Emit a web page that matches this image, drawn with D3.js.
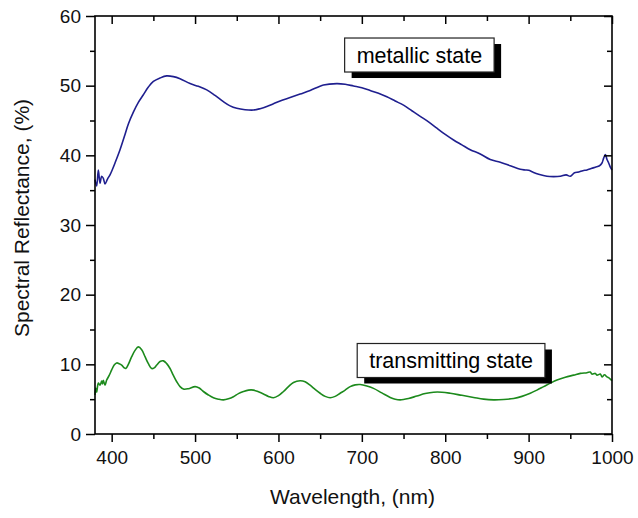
<!DOCTYPE html>
<html><head><meta charset="utf-8">
<script src="https://cdn.jsdelivr.net/npm/d3@7"></script>
<style>html,body{margin:0;padding:0;background:#fff}svg{display:block}</style>
</head><body>
<svg id="c" width="638" height="518"></svg>
<script>
const metallicWl = [380,382,384,386,388,390,392,395,398,401,404,410,416,420,426,432,438,444,450,458,466,474,482,494,504,514,524,534,542,550,560,570,578,586,594,602,614,626,638,654,670,680,690,700,710,720,730,740,750,760,770,780,790,800,810,820,830,842,854,866,878,890,896,900,905,912,922,930,938,945,950,955,960,965,970,975,980,985,988,990,992,994,996,998,1000];
const metallicR = [36.5,35.6,37.9,36.0,37.0,36.7,35.9,36.6,37.2,38.0,38.9,40.8,43.0,44.5,46.2,47.6,48.7,49.8,50.6,51.1,51.4,51.3,51.0,50.3,49.9,49.4,48.6,47.7,47.1,46.75,46.55,46.5,46.7,47.0,47.4,47.8,48.3,48.8,49.3,50.1,50.3,50.2,49.95,49.7,49.3,48.9,48.4,47.8,47.2,46.4,45.6,44.8,43.9,43.0,42.2,41.5,40.8,40.2,39.4,39.0,38.5,38.0,37.9,37.85,37.6,37.3,37.0,36.95,37.0,37.2,37.0,37.5,37.6,37.8,37.9,38.1,38.3,38.5,38.9,39.6,40.1,39.4,38.9,38.3,37.9];

const transWl = [380,381,382,384,386,388,389,390,392,394,397,400,403,406,409,412,415,417,420,424,428,432,436,440,444,448,451,454,458,462,466,470,474,478,482,486,492,500,505,510,516,522,528,534,540,546,552,558,564,570,576,582,588,594,600,606,612,618,626,632,638,644,650,656,662,668,674,680,686,692,698,706,714,724,734,740,746,756,766,776,786,796,806,820,834,846,858,870,882,892,902,910,918,926,934,944,954,962,970,974,976,980,982,986,988,991,994,997,1000];
const transR = [5.6,6.6,6.0,7.3,7.0,7.6,7.2,7.7,7.0,7.75,8.4,9.2,9.9,10.2,10.1,9.9,9.5,9.4,10.0,11.1,12.0,12.5,12.1,11.1,10.1,9.4,9.5,9.9,10.4,10.5,10.1,9.4,8.4,7.5,6.8,6.45,6.5,6.8,6.6,6.1,5.6,5.2,5.0,4.9,5.05,5.35,5.8,6.1,6.3,6.3,6.05,5.75,5.4,5.2,5.5,6.1,6.8,7.4,7.65,7.5,7.0,6.4,5.85,5.4,5.2,5.4,5.85,6.3,6.8,7.05,7.1,6.9,6.55,5.9,5.25,5.0,4.9,5.1,5.45,5.8,6.0,6.0,5.85,5.55,5.25,5.0,4.9,4.95,5.1,5.4,5.85,6.3,6.8,7.3,7.75,8.15,8.45,8.7,8.8,8.9,8.6,8.7,8.45,8.6,8.2,8.5,8.2,8.0,7.65];

const xMajor = [400,500,600,700,800,900,1000];
const xMinor = [450,550,650,750,850,950];
const yMajor = [0,10,20,30,40,50,60];
const yMinor = [5,15,25,35,45,55];

const labelTexts = ["metallic state","transmitting state"];
const labelWl = [769,807];
const labelR = [54.4,10.55];

const xTitle = "Wavelength, (nm)";
const yTitle = "Spectral Reflectance, (%)";

const svg = d3.select("#c");
const L = 95, R = 612, T = 16, B = 434;
const x = d3.scaleLinear().domain([380,1000]).range([L,R]);
const y = d3.scaleLinear().domain([0,60]).range([B,T]);
const font = "'Liberation Sans', Arial, Helvetica, sans-serif";

const line = d3.line().x(d=>x(d[0])).y(d=>y(d[1])).curve(d3.curveCatmullRom.alpha(0.5));
const mData = metallicWl.map((w,i)=>[w,metallicR[i]]);
const tData = transWl.map((w,i)=>[w,transR[i]]);

svg.append("path").datum(mData).attr("d",line).attr("fill","none").attr("stroke","#1f1f8f").attr("stroke-width",1.6);
svg.append("path").datum(tData).attr("d",line).attr("fill","none").attr("stroke","#1c8a1c").attr("stroke-width",1.6);

function styleAxis(g){
  g.select(".domain").remove();
  g.selectAll("line").attr("stroke","#000").attr("stroke-width",1.5);
  g.selectAll("text").attr("font-family",font).attr("font-size",19).attr("fill","#111");
}
const fmt = d3.format("d");
svg.append("g").attr("transform",`translate(0,${B})`).call(d3.axisBottom(x).tickValues(xMajor).tickSize(8).tickPadding(9).tickFormat(fmt)).call(styleAxis);
svg.append("g").attr("transform",`translate(0,${B})`).call(d3.axisBottom(x).tickValues(xMinor).tickSize(5).tickFormat("")).call(styleAxis);
svg.append("g").attr("transform",`translate(0,${T})`).call(d3.axisBottom(x).tickValues(xMajor).tickSize(8).tickFormat("")).call(styleAxis);
svg.append("g").attr("transform",`translate(0,${T})`).call(d3.axisBottom(x).tickValues(xMinor).tickSize(5).tickFormat("")).call(styleAxis);
svg.append("g").attr("transform",`translate(${L},0)`).call(d3.axisLeft(y).tickValues(yMajor).tickSize(9).tickPadding(5).tickFormat(fmt)).call(styleAxis);
svg.append("g").attr("transform",`translate(${L},0)`).call(d3.axisLeft(y).tickValues(yMinor).tickSize(5).tickFormat("")).call(styleAxis);
svg.append("g").attr("transform",`translate(${R},0)`).call(d3.axisLeft(y).tickValues(yMajor).tickSize(8).tickFormat("")).call(styleAxis);
svg.append("g").attr("transform",`translate(${R},0)`).call(d3.axisLeft(y).tickValues(yMinor).tickSize(5).tickFormat("")).call(styleAxis);

svg.append("rect").attr("x",L).attr("y",T).attr("width",R-L).attr("height",B-T)
  .attr("fill","none").attr("stroke","#000").attr("stroke-width",1.6);

svg.append("text").attr("x",(L+R)/2-1).attr("y",504).attr("text-anchor","middle")
  .attr("font-family",font).attr("font-size",21).attr("fill","#111").text(xTitle);
svg.append("text").attr("transform",`translate(29,218) rotate(-90)`).attr("text-anchor","middle")
  .attr("font-family",font).attr("font-size",21).attr("fill","#111").text(yTitle);

labelTexts.forEach((t,i)=>{
  const g = svg.append("g");
  const cx = x(labelWl[i]), cy = y(labelR[i]);
  const txt = g.append("text").attr("x",cx).attr("y",cy+7.5).attr("text-anchor","middle")
    .attr("font-family",font).attr("font-size",21.5).attr("fill","#000").text(t);
  const bb = txt.node().getBBox();
  const w = bb.width+24, h = 34;
  g.insert("rect","text").attr("x",cx-w/2+7).attr("y",cy-h/2+6).attr("width",w).attr("height",h).attr("fill","#000");
  g.insert("rect","text").attr("x",cx-w/2).attr("y",cy-h/2).attr("width",w).attr("height",h)
    .attr("fill","#fff").attr("stroke","#222").attr("stroke-width",1.2);
});
</script>
</body></html>
